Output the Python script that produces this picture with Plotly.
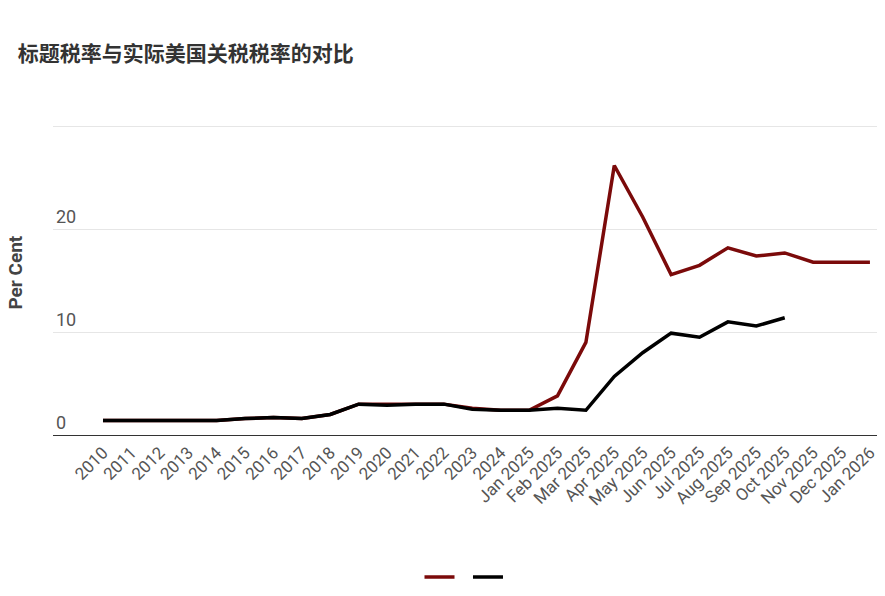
import plotly.graph_objects as go

categories = [str(y) for y in range(2010, 2025)] + ["Jan 2025","Feb 2025","Mar 2025","Apr 2025","May 2025","Jun 2025","Jul 2025","Aug 2025","Sep 2025","Oct 2025","Nov 2025","Dec 2025","Jan 2026"]
headline = [1.4,1.4,1.4,1.4,1.4,1.6,1.7,1.6,2.0,3.0,3.0,3.0,3.0,2.6,2.4,2.4,3.8,9.0,26.2,21.2,15.6,16.5,18.2,17.4,17.7,16.8,16.8,16.8]
effective = [1.4,1.4,1.4,1.4,1.4,1.6,1.7,1.6,2.0,3.0,2.9,3.0,3.0,2.5,2.4,2.4,2.6,2.4,5.7,8.0,9.9,9.5,11.0,10.6,11.4,None,None,None]

fig = go.Figure()
fig.add_trace(go.Scatter(x=categories, y=headline, mode="lines", name=" ", line=dict(color="#7b0a0a", width=3.5)))
fig.add_trace(go.Scatter(x=categories, y=effective, mode="lines", name=" ", line=dict(color="#000000", width=3.5)))

fig.update_layout(
    width=885, height=596, plot_bgcolor="white", paper_bgcolor="white",
    margin=dict(l=45, r=10, t=103, b=149),
    font=dict(family="Roboto, Noto Sans CJK SC", color="#555"),
    title=dict(text="<b>标题税率与实际美国关税税率的对比</b>", x=0.011, y=0.935, xanchor="left",
               font=dict(size=21, color="#333", family="Noto Sans CJK SC")),
    xaxis=dict(type="category", range=[-1.76, 27.46], tickangle=-45, tickfont=dict(size=17, color="#555"),
               showgrid=False, showline=True, linecolor="#333", linewidth=1, ticks=""),
    yaxis=dict(range=[0, 31.5], tickvals=[0, 10, 20, 30], ticklabelposition="inside top",
               tickfont=dict(size=18, color="#555"), gridcolor="#e6e6e6", zeroline=False),
    annotations=[dict(text="<b>Per Cent</b>", xref="paper", yref="paper", x=-0.03, y=0.5,
                      xanchor="right", yanchor="middle", textangle=-90, showarrow=False,
                      font=dict(size=19, color="#444"))],
    showlegend=True,
    legend=dict(orientation="h", x=0.5, xanchor="center", y=-0.39, yanchor="top", font=dict(size=14)),
)
fig.write_html("out.html")
